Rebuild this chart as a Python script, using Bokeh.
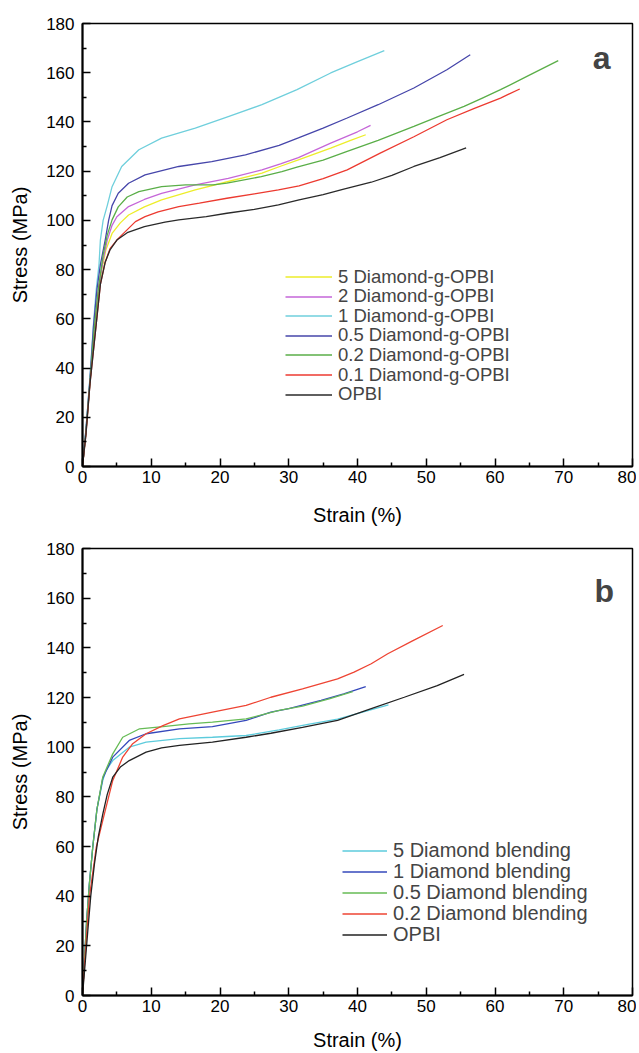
from bokeh.plotting import figure
from bokeh.models import Legend, LegendItem, Label, Range1d, FixedTicker
from bokeh.layouts import column
from bokeh.embed import file_html
from bokeh.resources import INLINE

FONT = "Liberation Sans"

# ---------------- Panel a data (strain %, stress MPa) ----------------
a_names = ["5 Diamond-g-OPBI", "2 Diamond-g-OPBI", "1 Diamond-g-OPBI",
           "0.5 Diamond-g-OPBI", "0.2 Diamond-g-OPBI", "0.1 Diamond-g-OPBI", "OPBI"]
a_colors = ["#eded2a", "#c566d8", "#6fcfdc", "#4646aa", "#5aae48", "#ec3a30", "#2a2a2a"]

a5_x = [0, 0.5, 1.1, 1.7, 2.3, 2.8, 3.4, 4.3, 5.5, 6.7, 9, 11.5, 16.4, 21.2, 26.1, 28.8, 31.4, 36.1, 39, 41.2]
a5_y = [0, 14, 35, 55, 70, 80, 88, 94.7, 99, 102.2, 105.5, 108.3, 112.4, 115.8, 119.2, 122, 124.6, 129.4, 132.5, 134.8]

a2_x = [0, 0.5, 1.1, 1.7, 2.3, 3, 3.6, 4.3, 5, 6.7, 9, 11.5, 16.4, 21.2, 26.1, 28.8, 31.4, 36.1, 40, 41.9]
a2_y = [0, 14, 35, 56, 72, 84, 92, 98, 101.5, 105.6, 108.5, 111, 114.4, 117.1, 120.5, 123, 125.5, 131.4, 136, 138.6]

a1_x = [0, 0.5, 1.1, 1.6, 2.0, 2.4, 2.6, 3, 3.6, 4.3, 5.7, 8.2, 11.5, 16.4, 21.2, 26.1, 31.2, 36.1, 40, 43.9]
a1_y = [0, 15, 37, 58, 72, 82, 92, 100, 106, 113.7, 121.9, 128.7, 133.4, 137.5, 142.2, 147, 153.1, 159.9, 164.5, 169]

a05_x = [0, 0.5, 1.1, 1.6, 2.1, 2.6, 3.3, 3.8, 4.3, 5.2, 6.7, 9.1, 14, 18.8, 23.7, 28.6, 31.4, 35, 38.5, 43, 48.2, 53, 56.4]
a05_y = [0, 15, 36, 57, 72, 82, 92, 100, 106, 111, 115.1, 118.5, 121.9, 123.9, 126.6, 130.5, 133.5, 137.5, 141.6, 147, 153.8, 161.2, 167.3]

a02_x = [0, 0.5, 1.1, 1.7, 2.3, 3, 3.6, 4.3, 5.2, 6.5, 8.2, 11.5, 15, 19, 21, 26, 29, 31.2, 35, 38.5, 43, 48.2, 52, 55.5, 58, 60.8, 65, 69.2]
a02_y = [0, 14, 35, 56, 72, 86, 94, 100.2, 105.5, 109.5, 111.7, 113.7, 114.4, 114.4, 115.1, 117.8, 119.8, 121.6, 124.5, 128, 132.5, 138.2, 142.5, 146.3, 149.5, 153.1, 159, 164.9]

a01_x = [0, 0.5, 1.1, 1.85, 2.6, 3.3, 4, 5, 5.7, 7.7, 9.1, 11, 14, 17, 21, 25, 28.5, 31.5, 35, 38.5, 43.3, 48.2, 53, 57, 60.8, 63.6]
a01_y = [0, 13, 34, 54, 74, 83, 88.5, 92, 94, 99.5, 101.5, 103.5, 105.6, 107, 109, 110.8, 112.4, 114, 117, 120.5, 127.3, 134, 140.9, 145.5, 149.7, 153.4]

a0_x = [0, 0.5, 1.1, 1.85, 2.6, 3.3, 4, 5, 6.5, 9, 12, 14, 18, 21, 25, 28.5, 31.5, 35, 38, 42, 45, 48.2, 52, 55.8]
a0_y = [0, 13, 34, 54, 74, 83, 88, 92, 95, 97.5, 99.3, 100.2, 101.5, 102.9, 104.5, 106.3, 108.3, 110.5, 112.7, 115.5, 118.3, 121.9, 125.5, 129.5]

# ---------------- Panel b data ----------------
b_names = ["5 Diamond blending", "1 Diamond blending", "0.5 Diamond blending",
           "0.2 Diamond blending", "OPBI"]
b_colors = ["#5ccbdc", "#3548bb", "#66bb55", "#ee4433", "#222222"]

b5_x = [0, 0.3, 0.6, 1.0, 1.5, 2.1, 2.95, 3.4, 4.4, 6.8, 9.25, 14.1, 18.9, 23.8, 28.6, 33, 37.1, 41, 44.5]
b5_y = [0, 15, 30, 45, 60, 75, 86.6, 90.6, 94.6, 100, 102, 103.4, 104, 104.7, 107, 109.3, 111.3, 114.3, 117]

b1_x = [0, 0.3, 0.6, 1.0, 1.5, 2.1, 2.95, 4.4, 6.8, 9.25, 14.1, 18.9, 23.8, 27.4, 30, 34.7, 38, 41.2]
b1_y = [0, 15, 30, 45, 60, 75, 87.5, 96, 102.7, 105.4, 107.4, 108.3, 110.8, 114.1, 115.5, 118.8, 121.5, 124.4]

b05_x = [0, 0.3, 0.6, 1.0, 1.5, 2.1, 2.95, 4.4, 5.85, 8.3, 11.7, 15.5, 18.9, 23.8, 28.6, 32, 36, 39.3]
b05_y = [0, 15, 30, 45, 60, 75, 88, 97.3, 104, 107.4, 108.3, 109.4, 110.1, 111.4, 114.8, 116.5, 119.5, 122.4]

b02_x = [0, 0.3, 1.0, 2.0, 2.95, 4.4, 5.85, 7.3, 9.25, 11.7, 14.1, 18.9, 23.8, 27.4, 32, 37.1, 39.5, 42, 44.4, 48, 52.4]
b02_y = [0, 12.8, 39.6, 59.7, 70.5, 86.6, 96, 101.4, 105.4, 108.7, 111.4, 114.1, 116.8, 120.1, 123.5, 127.5, 130.2, 133.6, 137.6, 142.8, 149]

b0_x = [0, 0.3, 0.77, 1.2, 1.74, 2.3, 2.95, 3.6, 4.4, 5.5, 6.8, 9.25, 11.5, 14.1, 18.9, 23.8, 27.4, 32, 37.1, 42, 46.8, 51.6, 55.5]
b0_y = [0, 10, 26, 40, 53, 64, 73, 81, 87.9, 92, 94.6, 98, 99.7, 100.7, 102, 104, 105.6, 108, 110.8, 115.5, 120.1, 124.8, 129.3]

x_ticks = [0, 10, 20, 30, 40, 50, 60, 70, 80]
y_ticks = [0, 20, 40, 60, 80, 100, 120, 140, 160, 180]

W = 636


def make_fig(height, border_top, border_bottom, label_standoff_x):
    p = figure(width=W, height=height, output_backend="svg", toolbar_location=None,
               x_range=Range1d(0, 80), y_range=Range1d(0, 180),
               min_border_left=82, min_border_right=4,
               min_border_top=border_top, min_border_bottom=border_bottom)
    p.grid.visible = False
    p.outline_line_color = "black"
    p.outline_line_width = 1.5
    p.background_fill_color = "white"
    p.border_fill_color = "white"
    for ax in (p.xaxis[0], p.yaxis[0]):
        ax.axis_line_width = 2
        ax.axis_line_color = "black"
        ax.major_tick_in = 8
        ax.major_tick_out = 0
        ax.minor_tick_in = 4
        ax.minor_tick_out = 0
        ax.major_tick_line_width = 1.5
        ax.minor_tick_line_width = 1.5
        ax.major_label_text_font = FONT
        ax.major_label_text_font_size = "17px"
        ax.major_label_text_color = "black"
        ax.axis_label_text_font = FONT
        ax.axis_label_text_font_size = "20px"
        ax.axis_label_text_font_style = "normal"
        ax.axis_label_text_color = "black"
    p.xaxis.ticker = FixedTicker(ticks=x_ticks, minor_ticks=[5, 15, 25, 35, 45, 55, 65, 75])
    p.yaxis.ticker = FixedTicker(ticks=y_ticks, minor_ticks=[10, 30, 50, 70, 90, 110, 130, 150, 170])
    p.xaxis.axis_label = "Strain (%)"
    p.yaxis.axis_label = "Stress (MPa)"
    p.xaxis.major_label_standoff = 4
    p.yaxis.major_label_standoff = 8
    p.xaxis.axis_label_standoff = label_standoff_x
    p.yaxis.axis_label_standoff = 12
    return p


def add_legends(p, renderers, names, x0, centers, frame_bottom, glyph_w, fsize, row_h):
    # one small legend per row so that the rows sit as tightly as in the original
    for r, name, c in zip(renderers, names, centers):
        leg = Legend(items=[LegendItem(label=name, renderers=[r])],
                     location=(x0, frame_bottom - c - row_h / 2), padding=0, margin=0, spacing=0,
                     glyph_width=glyph_w, glyph_height=row_h, label_height=row_h, label_standoff=6,
                     label_text_font=FONT, label_text_font_size=fsize,
                     border_line_alpha=0, background_fill_alpha=0)
        p.add_layout(leg, "center")


# ---------------- Figure a ----------------
pa = make_fig(528, 23, 62, 18)
a_series = [(a5_x, a5_y), (a2_x, a2_y), (a1_x, a1_y), (a05_x, a05_y),
            (a02_x, a02_y), (a01_x, a01_y), (a0_x, a0_y)]
a_rs = []
for (xs, ys), col in zip(a_series, a_colors):
    a_rs.append(pa.line(xs, ys, line_color=col, line_width=1.3))
a_centers = [278.0 + 19.6 * i for i in range(7)]
add_legends(pa, a_rs, a_names, 203, a_centers, 466, 47, "18.5px", 19)
pa.add_layout(Label(x=75.5, y=166.1, text="a", text_font=FONT, text_font_size="32px",
                    text_font_style="bold", text_align="center", text_baseline="middle"))

# ---------------- Figure b ----------------
pb = make_fig(525, 20, 58, 14)
b_series = [(b5_x, b5_y), (b1_x, b1_y), (b05_x, b05_y), (b02_x, b02_y), (b0_x, b0_y)]
b_rs = []
for (xs, ys), col in zip(b_series, b_colors):
    b_rs.append(pb.line(xs, ys, line_color=col, line_width=1.3))
b_centers = [851.7 - 528 + 21.0 * i for i in range(5)]
add_legends(pb, b_rs, b_names, 260, b_centers, 995 - 528, 45, "20px", 21)
pb.add_layout(Label(x=75.9, y=162.9, text="b", text_font=FONT, text_font_size="32px",
                    text_font_style="bold", text_align="center", text_baseline="middle"))

layout = column(pa, pb, spacing=0)
open("out.html", "w").write(file_html(layout, INLINE))
